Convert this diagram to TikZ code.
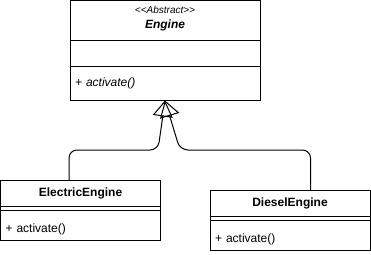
\documentclass[tikz,border=0pt]{standalone}
\usepackage{fontspec}
\setmainfont{Liberation Sans}
\usetikzlibrary{positioning,arrows.meta}

\tikzset{
  box/.style={draw, outer sep=0pt, inner sep=0pt, minimum width=#1},
  member/.style={inner xsep=5pt, text width=150pt, align=left},
  inherit/.style={rounded corners=8pt, -{Triangle[open,length=16pt,width=20pt]}}
}

\begin{document}
\begin{tikzpicture}[x=1pt,y=-1pt,line width=1pt,font=\fontsize{12}{14}\selectfont]
  \useasboundingbox (0,0) rectangle (371,254);
  % abstract base class
  \node[box=190pt, minimum height=40pt, align=center, text depth=6pt] (engine) at (165,20.5)
    {{\fontsize{10}{12}\selectfont\itshape \textless{}\textless{}Abstract\textgreater{}\textgreater{}}\\[1pt]
     {\bfseries\itshape Engine}};
  \node[box=190pt, minimum height=26pt, below=0pt of engine] (engineattr) {};
  \node[box=190pt, minimum height=34pt, below=0pt of engineattr, member, text width=180pt] (enginemeth)
    {\itshape + activate()};

  % subclasses
  \node[box=160pt, minimum height=26pt, font=\fontsize{12}{14}\selectfont\bfseries] (electric) at (80.5,193.5) {ElectricEngine};
  \node[box=160pt, minimum height=4pt, below=0pt of electric] (electricline) {};
  \node[box=160pt, minimum height=30pt, below=0pt of electricline, member, text height=14pt, text depth=0pt] (electricmeth) {+ activate()};

  \node[box=160pt, minimum height=26pt, font=\fontsize{12}{14}\selectfont\bfseries] (diesel) at (290,203.5) {DieselEngine};
  \node[box=160pt, minimum height=4pt, below=0pt of diesel] (dieselline) {};
  \node[box=160pt, minimum height=30pt, below=0pt of dieselline, member, text height=14pt, text depth=0pt] (dieselmeth) {+ activate()};

  % generalisation arrows
  \coordinate (join) at (165,150);
  \draw[inherit] ([xshift=-11.5pt]electric.north) |- ([xshift=-7pt]join) -- (enginemeth.south);
  \draw[inherit] ([xshift=20.5pt]diesel.north) |- ([xshift=15pt]join) -- (enginemeth.south);
\end{tikzpicture}
\end{document}
